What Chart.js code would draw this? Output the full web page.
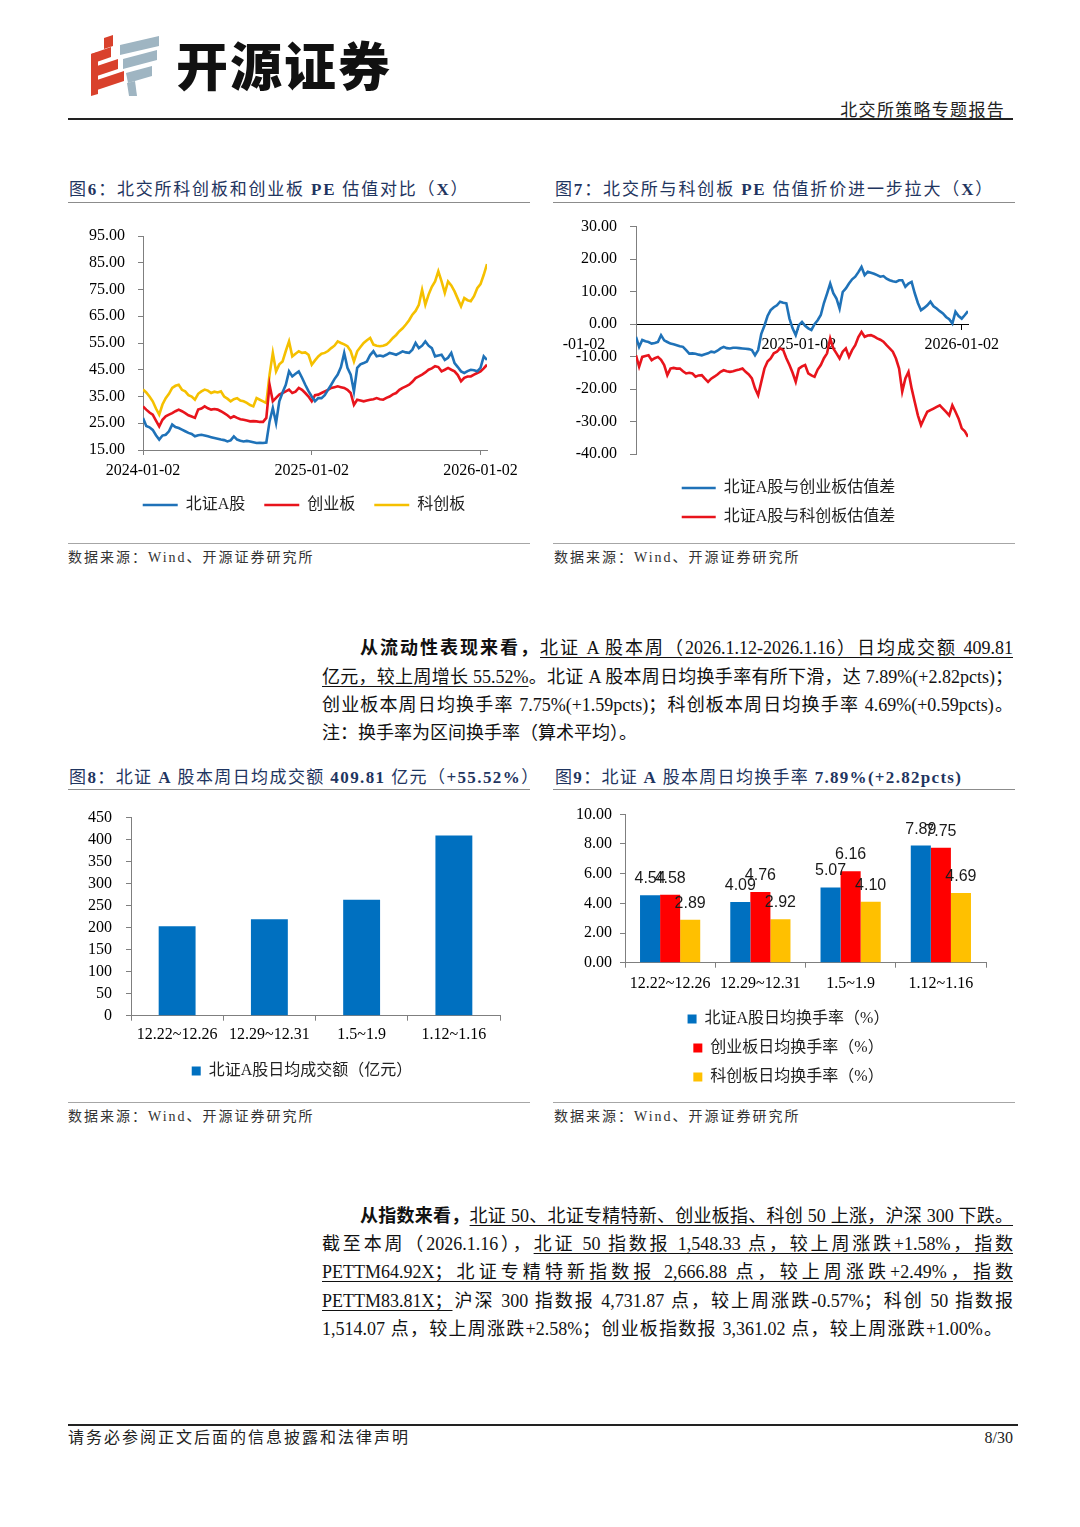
<!DOCTYPE html>
<html><head><meta charset="utf-8">
<script src="https://cdn.jsdelivr.net/npm/chart.js@4.4.1/dist/chart.umd.min.js"></script>
<style>
html,body{margin:0;padding:0;background:#fff;}
#page{position:relative;width:1080px;height:1527px;background:#fff;overflow:hidden;font-family:'Liberation Serif','Noto Sans CJK SC',serif;color:#111;}
.rule{position:absolute;height:0;}
.title{position:absolute;font-size:17px;color:#1f3560;white-space:nowrap;line-height:20px;height:20px;}
.title b{font-weight:bold;}
.src{position:absolute;font-size:14px;color:#333;letter-spacing:2px;white-space:nowrap;line-height:18px;}
.line{position:absolute;font-size:18px;line-height:26px;height:26px;white-space:nowrap;text-align:justify;text-align-last:justify;color:#111;}
.line.left{text-align:left;text-align-last:left;}
.u{text-decoration:underline;text-underline-offset:3px;text-decoration-thickness:1px;}
canvas{position:absolute;}
</style></head>
<body>
<div id="page">
  <!-- header -->
  <svg style="position:absolute;left:0;top:0" width="200" height="110">
    <g fill="#d9412c">
      <polygon points="104,38 113,35 113,46 104,49"/>
      <polygon points="91,54 111,47 111,57 91,64"/>
      <polygon points="91,68 118,59 118,69 91,78"/>
      <polygon points="91,82 124,71 124,81 91,92"/>
      <polygon points="91,54 98,52 98,94 91,96"/>
    </g>
    <g fill="#9fb5c2">
      <polygon points="120,45 159,36 159,46 120,55"/>
      <polygon points="123,59 157,50 157,60 123,69"/>
      <polygon points="126,73 152,66 152,76 128,83"/>
      <polygon points="127,83 135,81 137,96 129,96"/>
    </g>
  </svg>
  <div style="position:absolute;left:176px;top:32px;font-family:'Noto Sans CJK SC',sans-serif;font-weight:900;font-size:52px;line-height:64px;letter-spacing:2px;color:#111;">开源证券</div>
  <div style="position:absolute;right:75px;top:98px;font-family:'Noto Sans CJK SC',serif;font-size:17px;line-height:22px;letter-spacing:1.3px;color:#222;">北交所策略专题报告</div>
  <div class="rule" style="left:68px;top:118px;width:945px;border-top:2px solid #222;"></div>

  <!-- chart 6 / 7 titles -->
  <div class="title" style="left:69px;top:180px;letter-spacing:1.8px;">图<b>6</b>：北交所科创板和创业板 <b>PE</b> 估值对比（<b>X</b>）</div>
  <div class="rule" style="left:68px;top:202px;width:462px;border-top:1.5px solid #8c8c8c;"></div>
  <div class="title" style="left:555px;top:180px;letter-spacing:1.85px;">图<b>7</b>：北交所与科创板 <b>PE</b> 估值折价进一步拉大（<b>X</b>）</div>
  <div class="rule" style="left:553px;top:202px;width:462px;border-top:1.5px solid #8c8c8c;"></div>

  <canvas id="c6" width="462" height="308" style="left:68px;top:215px;width:462px;height:308px;"></canvas>
  <canvas id="c7" width="452" height="320" style="left:563px;top:215px;width:452px;height:320px;"></canvas>

  <div class="rule" style="left:68px;top:543px;width:462px;border-top:1px solid #a6a6a6;"></div>
  <div class="rule" style="left:553px;top:543px;width:462px;border-top:1px solid #a6a6a6;"></div>
  <div class="src" style="left:68px;top:549px;">数据来源：Wind、开源证券研究所</div>
  <div class="src" style="left:554px;top:549px;">数据来源：Wind、开源证券研究所</div>

  <!-- paragraph 1 -->
  <div class="line" style="left:360px;top:635px;width:653px;"><b>从流动性表现来看，</b><span class="u">北证 A 股本周（2026.1.12-2026.1.16）日均成交额 409.81</span></div>
  <div class="line" style="left:322px;top:664px;width:691px;"><span class="u">亿元，较上周增长 55.52%</span>。北证 A 股本周日均换手率有所下滑，达 7.89%(+2.82pcts)；</div>
  <div class="line" style="left:322px;top:692px;width:691px;">创业板本周日均换手率 7.75%(+1.59pcts)；科创板本周日均换手率 4.69%(+0.59pcts)。</div>
  <div class="line left" style="left:322px;top:720px;width:691px;">注：换手率为区间换手率（算术平均）。</div>

  <!-- chart 8 / 9 titles -->
  <div class="title" style="left:69px;top:768px;letter-spacing:1.4px;">图<b>8</b>：北证 <b>A</b> 股本周日均成交额 <b>409.81</b> 亿元（<b>+55.52%</b>）</div>
  <div class="rule" style="left:68px;top:789px;width:462px;border-top:1.5px solid #8c8c8c;"></div>
  <div class="title" style="left:555px;top:768px;letter-spacing:1.3px;">图<b>9</b>：北证 <b>A</b> 股本周日均换手率 <b>7.89%(+2.82pcts)</b></div>
  <div class="rule" style="left:553px;top:789px;width:462px;border-top:1.5px solid #8c8c8c;"></div>

  <canvas id="c8" width="462" height="292" style="left:68px;top:797px;width:462px;height:292px;"></canvas>
  <canvas id="c9" width="462" height="298" style="left:553px;top:797px;width:462px;height:298px;"></canvas>

  <div class="rule" style="left:68px;top:1102px;width:462px;border-top:1px solid #a6a6a6;"></div>
  <div class="rule" style="left:553px;top:1102px;width:462px;border-top:1px solid #a6a6a6;"></div>
  <div class="src" style="left:68px;top:1108px;">数据来源：Wind、开源证券研究所</div>
  <div class="src" style="left:554px;top:1108px;">数据来源：Wind、开源证券研究所</div>

  <!-- paragraph 2 -->
  <div class="line" style="left:360px;top:1203px;width:653px;"><b>从指数来看，</b><span class="u">北证 50、北证专精特新、创业板指、科创 50 上涨，沪深 300 下跌。</span></div>
  <div class="line" style="left:322px;top:1231px;width:691px;">截至本周（2026.1.16），<span class="u">北证 50 指数报 1,548.33 点，较上周涨跌+1.58%，指数</span></div>
  <div class="line" style="left:322px;top:1259px;width:691px;"><span class="u">PETTM64.92X；北证专精特新指数报 2,666.88 点，较上周涨跌+2.49%，指数</span></div>
  <div class="line" style="left:322px;top:1288px;width:691px;"><span class="u">PETTM83.81X；</span>沪深 300 指数报 4,731.87 点，较上周涨跌-0.57%；科创 50 指数报</div>
  <div class="line" style="left:322px;top:1316px;width:680px;">1,514.07 点，较上周涨跌+2.58%；创业板指数报 3,361.02 点，较上周涨跌+1.00%。</div>

  <!-- footer -->
  <div class="rule" style="left:68px;top:1424px;width:950px;border-top:2px solid #222;"></div>
  <div style="position:absolute;left:68px;top:1428px;font-size:16px;line-height:20px;letter-spacing:2px;color:#222;">请务必参阅正文后面的信息披露和法律声明</div>
  <div style="position:absolute;right:67px;top:1428px;font-size:16px;line-height:20px;color:#222;">8/30</div>
</div>

<script>
// ---------- data ----------
// Figure 6 / 7: weekly samples from 2024-01-02 (week 0) to 2026-01-16 (week 106)
const dateTickLabels = ['2024-01-02', '2025-01-02', '2026-01-02'];
const dateTickWeeks = [0, 52, 104];

const peBeizheng = [
  27.0, 24.0, 23.5, 22.5, 20.5, 18.9, 20.4, 20.7, 22.0, 24.5,
  23.6, 23.2, 22.6, 22.0, 21.4, 21.0, 20.1, 20.5, 20.7, 20.4,
  20.1, 19.8, 19.5, 19.2, 18.9, 18.7, 18.2, 18.6, 20.1, 18.9,
  18.5, 18.2, 18.4, 18.2, 17.9, 17.6, 17.7, 17.6, 17.8, 25.7,
  30.7, 25.1, 33.2, 36.5, 39.4, 44.4, 42.5, 43.5, 44.4, 42.0,
  39.4, 37.0, 35.0, 33.2, 34.4, 34.4, 35.5, 37.5, 39.4, 41.5,
  43.2, 46.0, 51.3, 45.7, 43.2, 36.9, 45.7, 47.0, 47.5, 48.1,
  50.5, 51.9, 50.0, 50.3, 50.0, 50.6, 51.3, 51.0, 50.6, 51.2,
  51.9, 51.5, 51.3, 52.5, 55.0, 53.1, 54.0, 55.6, 54.0, 53.1,
  50.0, 50.3, 50.6, 48.7, 49.5, 51.3, 47.5, 46.0, 44.4, 43.8,
  44.5, 45.0, 44.8, 44.4, 45.7, 50.0, 48.7
];
const peChuangye = [
  31.3, 30.1, 29.0, 28.2, 26.0, 23.8, 26.3, 27.6, 28.2, 28.8,
  29.5, 30.1, 29.5, 28.8, 28.0, 27.5, 27.0, 30.1, 30.5, 31.3,
  30.6, 30.1, 30.3, 30.1, 29.5, 28.8, 28.0, 27.0, 27.6, 27.0,
  26.5, 26.3, 26.0, 25.7, 25.8, 25.7, 25.5, 25.5, 27.0, 39.4,
  33.2, 34.5, 35.7, 36.3, 36.9, 37.6, 36.3, 36.8, 38.2, 37.5,
  36.3, 35.0, 33.2, 35.5, 35.7, 36.3, 36.9, 37.5, 38.2, 38.5,
  38.8, 38.5, 38.2, 37.5, 36.3, 31.9, 33.8, 33.5, 33.2, 33.5,
  33.8, 34.0, 34.4, 34.0, 33.8, 34.5, 35.0, 35.8, 36.3, 37.5,
  38.2, 38.8, 39.4, 40.5, 41.9, 42.5, 43.2, 44.0, 45.0, 45.5,
  46.3, 46.0, 44.4, 45.0, 45.7, 45.0, 44.4, 43.0, 40.7, 42.0,
  42.5, 42.5, 43.2, 43.8, 44.4, 45.5, 46.9
];
const peKechuang = [
  37.6, 36.5, 35.0, 33.2, 30.5, 28.2, 32.0, 34.4, 36.0, 38.2,
  39.0, 39.4, 37.5, 36.9, 35.5, 35.0, 33.8, 36.0, 36.9, 37.6,
  37.2, 36.3, 36.8, 36.5, 36.9, 35.0, 34.2, 33.2, 34.0, 34.4,
  33.5, 33.2, 32.6, 31.8, 31.3, 34.4, 33.8, 33.2, 32.6, 43.2,
  51.3, 44.4, 47.0, 48.1, 52.0, 55.6, 50.0, 51.0, 51.9, 51.3,
  51.5, 50.6, 46.9, 48.5, 50.0, 51.0, 51.3, 52.0, 53.1, 54.0,
  55.6, 55.0, 54.5, 53.8, 52.0, 48.1, 51.9, 53.5, 55.0, 56.0,
  56.9, 54.4, 54.0, 53.8, 54.0, 54.4, 55.5, 56.9, 58.0, 59.4,
  60.5, 61.9, 63.5, 65.6, 67.0, 69.3, 74.9, 69.3, 73.1, 76.0,
  78.0, 81.8, 78.0, 73.7, 78.0, 76.5, 74.3, 71.5, 68.7, 71.8,
  71.0, 70.6, 72.5, 75.5, 77.0, 80.5, 84.5
];
const spreadVsChuangye = [
  -3.9, -7.0, -4.9, -5.3, -5.5, -6.0, -5.8, -5.5, -3.4, -5.0,
  -5.5, -6.0, -6.2, -6.5, -6.8, -7.0, -8.0, -9.1, -9.0, -9.1,
  -9.4, -9.6, -9.3, -9.0, -8.5, -8.7, -8.2, -7.5, -7.0, -7.4,
  -7.5, -7.3, -7.3, -7.4, -7.5, -7.6, -7.7, -8.0, -9.6, -8.0,
  -3.0, -0.5, 2.5, 4.3, 5.2, 5.8, 6.9, 6.6, 6.4, 1.7,
  -1.3, -3.4, -0.3, 0.7, -0.5, -1.3, -1.8, 0.0, 1.2, 2.8,
  6.5, 9.4, 12.5, 9.5, 7.9, 4.8, 9.9, 11.0, 12.5, 13.8,
  14.6, 16.0, 17.6, 15.1, 16.1, 15.8, 15.5, 15.1, 14.6, 14.8,
  14.0, 13.5, 13.2, 13.0, 13.5, 13.5, 11.5, 12.5, 13.0, 9.5,
  6.5, 4.3, 5.0, 5.8, 6.9, 5.5, 4.8, 4.0, 3.3, 2.2,
  1.5, 0.2, 3.8, 2.5, 1.7, 2.8, 4.0
];
const spreadVsKechuang = [
  -9.6, -13.1, -10.1, -9.8, -9.6, -11.1, -10.5, -10.1, -11.0, -12.6,
  -15.7, -13.7, -13.5, -13.7, -13.7, -14.5, -15.2, -15.0, -15.2, -16.2,
  -15.8, -15.7, -16.8, -17.8, -16.8, -16.2, -15.5, -14.7, -14.2, -14.5,
  -14.7, -14.5, -14.2, -14.0, -13.7, -14.7, -15.5, -16.7, -19.8, -21.9,
  -17.8, -13.7, -11.5, -10.6, -9.0, -8.5, -7.5, -8.0, -10.5, -12.6,
  -15.0, -17.8, -13.7, -13.0, -12.6, -15.2, -15.8, -16.2, -14.0, -12.6,
  -10.5, -9.0, -4.4, -7.5, -9.0, -10.6, -8.5, -7.5, -10.1, -8.0,
  -6.5, -4.0, -2.4, -3.9, -3.5, -3.4, -3.8, -4.4, -4.8, -5.4,
  -6.5, -7.5, -8.5, -10.6, -13.7, -20.8, -16.7, -14.7, -19.8, -24.0,
  -28.1, -31.1, -29.0, -27.0, -26.5, -26.0, -25.5, -25.0, -26.0, -27.0,
  -28.1, -25.0, -27.0, -29.1, -32.1, -33.0, -34.7
];

// Figure 8 / 9
const weekCategories = ['12.22~12.26', '12.29~12.31', '1.5~1.9', '1.12~1.16'];
const avgTurnoverAmount = [203.5, 219.0, 263.51, 409.81];
const turnoverBeizheng = [4.54, 4.09, 5.07, 7.89];
const turnoverChuangye = [4.58, 4.76, 6.16, 7.75];
const turnoverKechuang = [2.89, 2.92, 4.10, 4.69];

// ---------- styling ----------
const FONT = "'Liberation Serif','Noto Sans CJK SC',serif";
Chart.defaults.font.family = FONT;
Chart.defaults.color = '#111';
const AXIS = '#7f7f7f';
const LBLUE = '#1f72b8', LRED = '#e8141c', LYELLOW = '#f5c000';
const BBLUE = '#0070c0', BRED = '#ff0000', BYELLOW = '#ffc000';

// let y-axis tick labels extend left of the (narrow) axis box without being clipped
Chart.register({
  id: 'unclipYLabels',
  afterLayout(chart) { if (chart.scales.y) chart.scales.y.left = 0; }
});

function yFit(width) {
  return s => { s.width = width; s.paddingTop = 0; s.paddingBottom = 0; };
}
function lineSet(label, values, color) {
  return {
    label, data: values.map((v, i) => ({x: i, y: v})),
    borderColor: color, backgroundColor: color, borderWidth: 2.6,
    pointRadius: 0, tension: 0, fill: false
  };
}
function dateAxis(height, firstPad) {
  return {
    type: 'linear', min: 0, max: 106,
    afterBuildTicks: s => { s.ticks = dateTickWeeks.map(v => ({value: v})); },
    afterFit: s => { s.height = height; s.paddingLeft = 0; s.paddingRight = 0; },
    ticks: {
      autoSkip: false, maxRotation: 0, minRotation: 0, padding: 6, color: '#000', font: {size: 16},
      callback: (v) => {
        const k = dateTickWeeks.indexOf(v);
        return k === 0 && firstPad ? dateTickLabels[k] + ' '.repeat(firstPad) : dateTickLabels[k];
      }
    },
    grid: {drawOnChartArea: false, tickLength: 5, color: AXIS},
    border: {color: AXIS}
  };
}

// ---------- Figure 6 ----------
new Chart(document.getElementById('c6'), {
  type: 'line',
  data: {datasets: [
    lineSet('北证A股', peBeizheng, LBLUE),
    lineSet('创业板', peChuangye, LRED),
    lineSet('科创板', peKechuang, LYELLOW)
  ]},
  options: {
    responsive: false, animation: false, events: [],
    layout: {padding: {left: 53, right: 43, top: 21, bottom: 0}},
    plugins: {
      legend: {position: 'bottom', labels: {usePointStyle: true, pointStyle: 'line', pointStyleWidth: 35, padding: 19, color: '#222', font: {size: 16}}},
      tooltip: {enabled: false}
    },
    scales: {
      x: dateAxis(28, 0),
      y: {
        min: 15, max: 95,
        afterFit: yFit(22),
        ticks: {stepSize: 10, autoSkip: false, padding: 13, color: '#000', font: {size: 16}, callback: v => v.toFixed(2)},
        grid: {drawOnChartArea: false, tickLength: 5, color: AXIS},
        border: {color: AXIS}
      }
    }
  }
});

// ---------- Figure 7 ----------
const x7 = dateAxis(0, 34);
x7.position = {y: 0};
x7.border = {color: '#000', width: 1};
x7.grid = {drawOnChartArea: false, tickLength: 5, color: '#000'};
new Chart(document.getElementById('c7'), {
  type: 'line',
  data: {datasets: [
    lineSet('北证A股与创业板估值差', spreadVsChuangye, LBLUE),
    lineSet('北证A股与科创板估值差', spreadVsKechuang, LRED)
  ]},
  options: {
    responsive: false, animation: false, events: [],
    layout: {padding: {left: 46, right: 47, top: 11.7, bottom: 0}},
    plugins: {
      legend: {position: 'bottom', labels: {usePointStyle: true, pointStyle: 'line', pointStyleWidth: 34, padding: 13, color: '#222', font: {size: 16}}},
      tooltip: {enabled: false}
    },
    scales: {
      x: x7,
      gap: {
        type: 'linear', position: 'bottom', display: true,
        ticks: {display: false}, grid: {display: false}, border: {display: false},
        afterFit: s => { s.height = 13; s.paddingLeft = 0; s.paddingRight = 0; }
      },
      y: {
        min: -40, max: 30,
        afterFit: yFit(27),
        ticks: {stepSize: 10, autoSkip: false, padding: 13, color: '#000', font: {size: 16}, callback: v => v.toFixed(2)},
        grid: {drawOnChartArea: false, tickLength: 6, color: AXIS},
        border: {color: AXIS}
      }
    }
  }
});

// ---------- Figure 8 ----------
new Chart(document.getElementById('c8'), {
  type: 'bar',
  data: {labels: weekCategories, datasets: [
    {label: '北证A股日均成交额（亿元）', data: avgTurnoverAmount, backgroundColor: BBLUE, borderWidth: 0, categoryPercentage: 1, barPercentage: 0.4}
  ]},
  options: {
    responsive: false, animation: false, events: [],
    layout: {padding: {left: 36, right: 30, top: 20.7, bottom: 0}},
    plugins: {
      legend: {position: 'bottom', labels: {boxWidth: 9, boxHeight: 9, padding: 10, color: '#222', font: {size: 16}}},
      tooltip: {enabled: false}
    },
    scales: {
      x: {
        afterFit: s => { s.height = 37.3; s.paddingLeft = 0; s.paddingRight = 0; },
        ticks: {padding: 4, color: '#000', font: {size: 16}, maxRotation: 0, autoSkip: false},
        grid: {drawOnChartArea: false, tickLength: 5, color: AXIS},
        border: {color: AXIS}
      },
      y: {
        min: 0, max: 450,
        afterFit: yFit(27),
        ticks: {stepSize: 50, autoSkip: false, padding: 14, color: '#000', font: {size: 16}},
        grid: {drawOnChartArea: false, tickLength: 5, color: AXIS},
        border: {color: AXIS}
      }
    }
  }
});

// ---------- Figure 9 ----------
const barValueLabels = {
  id: 'barValueLabels',
  afterDatasetsDraw(chart) {
    const ctx = chart.ctx;
    ctx.save();
    ctx.font = "16px 'Liberation Sans', Arial, sans-serif";
    ctx.fillStyle = '#1a1a1a';
    ctx.textAlign = 'center';
    ctx.textBaseline = 'alphabetic';
    chart.data.datasets.forEach((ds, di) => {
      chart.getDatasetMeta(di).data.forEach((bar, i) => {
        ctx.fillText(ds.data[i].toFixed(2), bar.x, bar.y - 12);
      });
    });
    ctx.restore();
  }
};
new Chart(document.getElementById('c9'), {
  type: 'bar',
  data: {labels: weekCategories, datasets: [
    {label: '北证A股日均换手率（%）', data: turnoverBeizheng, backgroundColor: BBLUE, borderWidth: 0},
    {label: '创业板日均换手率（%）', data: turnoverChuangye, backgroundColor: BRED, borderWidth: 0},
    {label: '科创板日均换手率（%）', data: turnoverKechuang, backgroundColor: BYELLOW, borderWidth: 0}
  ]},
  options: {
    responsive: false, animation: false, events: [],
    datasets: {bar: {categoryPercentage: 0.667, barPercentage: 1}},
    layout: {padding: {left: 38, right: 29, top: 17.3, bottom: 0}},
    plugins: {
      legend: {position: 'bottom', labels: {boxWidth: 9, boxHeight: 9, padding: 13, color: '#222', font: {size: 16}}},
      tooltip: {enabled: false}
    },
    scales: {
      x: {
        afterFit: s => { s.height = 35.3; s.paddingLeft = 0; s.paddingRight = 0; },
        ticks: {padding: 6, color: '#000', font: {size: 16}, maxRotation: 0, autoSkip: false},
        grid: {drawOnChartArea: false, tickLength: 5, color: AXIS},
        border: {color: AXIS}
      },
      y: {
        min: 0, max: 10,
        afterFit: yFit(34),
        ticks: {stepSize: 2, autoSkip: false, padding: 8, color: '#000', font: {size: 16}, callback: v => v.toFixed(2)},
        grid: {drawOnChartArea: false, tickLength: 5, color: AXIS},
        border: {color: AXIS}
      }
    }
  },
  plugins: [barValueLabels]
});
</script>
</body></html>
